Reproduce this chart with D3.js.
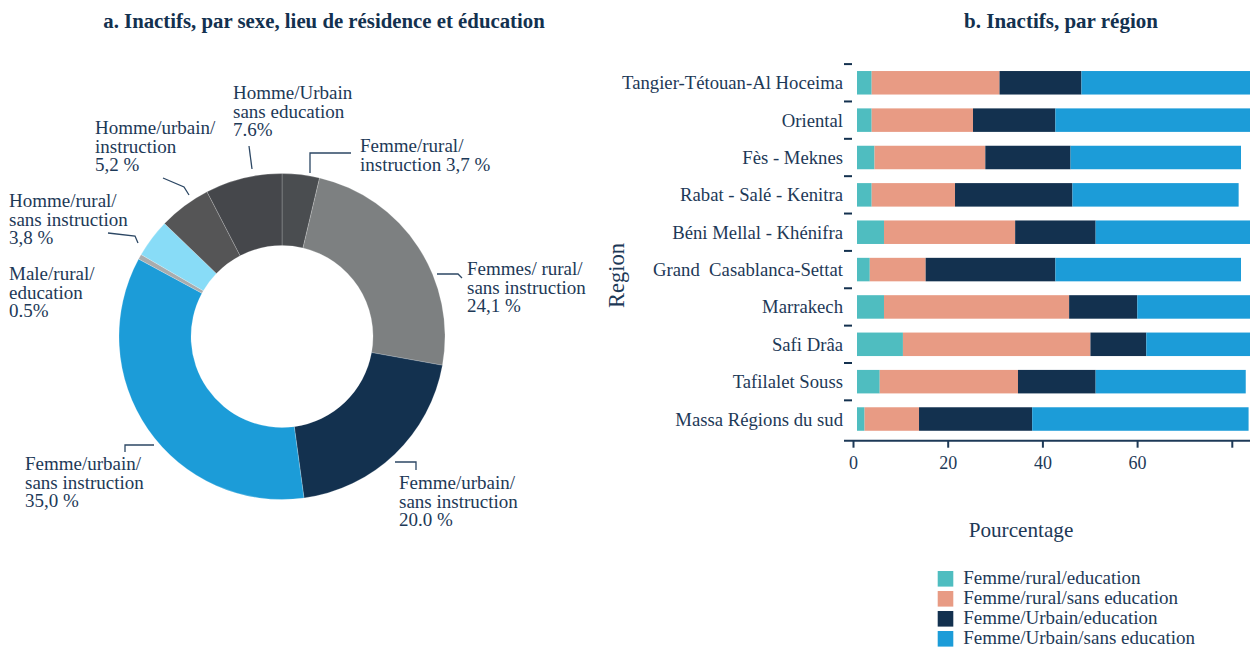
<!DOCTYPE html>
<html>
<head>
<meta charset="utf-8">
<script src="https://cdn.jsdelivr.net/npm/d3@7"></script>
<style>
  body { margin: 0; background: #fff; }
  svg { display: block; font-family: "Liberation Serif", "DejaVu Serif", serif; }
</style>
</head>
<body>
<div id="chart"></div>
<script>
// ---- panel a : donut data
var pieNames = ["Femme/rural/instruction", "Femmes/rural/sans instruction", "Femme/urbain/instruction",
  "Femme/urbain/sans instruction", "Male/rural/education", "Homme/rural/sans instruction",
  "Homme/urbain/instruction", "Homme/Urbain/sans education"];
var pieValues = [3.7, 24.1, 20.0, 35.0, 0.5, 3.8, 5.2, 7.6];
var pieLabels = [
  ["Femme/rural/", "instruction 3,7 %"],
  ["Femmes/ rural/", "sans instruction", "24,1 %"],
  ["Femme/urbain/", "sans instruction", "20.0 %"],
  ["Femme/urbain/", "sans instruction", "35,0 %"],
  ["Male/rural/", "education", "0.5%"],
  ["Homme/rural/", "sans instruction", "3,8 %"],
  ["Homme/urbain/", "instruction", "5,2 %"],
  ["Homme/Urbain", "sans education", "7.6%"]
];

// ---- panel b : stacked bars data
var regions = ["Tangier-Tétouan-Al Hoceima", "Oriental", "Fès - Meknes", "Rabat - Salé - Kenitra",
  "Béni Mellal - Khénifra", "Grand  Casablanca-Settat", "Marrakech", "Safi Drâa",
  "Tafilalet Souss", "Massa Régions du sud"];
var seriesNames = ["Femme/rural/education", "Femme/rural/sans education",
  "Femme/Urbain/education", "Femme/Urbain/sans education"];
var ruralEdu   = [3.1, 3.1, 3.7, 3.1, 5.7, 2.7, 5.7, 9.7, 4.8, 1.6];
var ruralSans  = [27.0, 21.4, 23.4, 17.6, 27.7, 11.8, 39.1, 39.6, 29.2, 11.5];
var urbainEdu  = [17.3, 17.4, 18.0, 24.8, 17.0, 27.4, 14.4, 11.8, 16.4, 23.9];
var urbainSans = [38.6, 46.0, 36.0, 35.1, 37.0, 39.2, 28.0, 26.0, 31.7, 45.7];
var xTicks = [0, 20, 40, 60, 80];

var textColor = "#1d3957";
var pieColors = ["#4a4d50", "#7d8081", "#13314f", "#1c9cd8", "#a9acae", "#88dcf7", "#555556", "#45474b"];
var barColors = ["#4fbdc0", "#e89b84", "#13314f", "#1c9cd8"];

var svg = d3.select("#chart").append("svg")
  .attr("width", 1250)
  .attr("height", 649);

// titles
svg.append("text")
  .attr("x", 324).attr("y", 28)
  .attr("text-anchor", "middle")
  .attr("font-size", 20.8).attr("font-weight", "bold")
  .attr("fill", "#13314f")
  .text("a. Inactifs, par sexe, lieu de résidence et éducation");

svg.append("text")
  .attr("x", 1061).attr("y", 28)
  .attr("text-anchor", "middle")
  .attr("font-size", 21).attr("font-weight", "bold")
  .attr("fill", "#13314f")
  .text("b. Inactifs, par région");

// ---------------- donut
var cx = 282, cy = 336.5;
var pie = d3.pie().sort(null).value(function(d) { return d; });
var arc = d3.arc().innerRadius(91).outerRadius(163);

var donut = svg.append("g").attr("transform", "translate(" + cx + "," + cy + ")");
donut.selectAll("path.slice")
  .data(pie(pieValues))
  .enter().append("path")
  .attr("class", "slice")
  .attr("d", arc)
  .attr("fill", function(d, i) { return pieColors[i]; })
  .attr("stroke", "#ffffff")
  .attr("stroke-opacity", 0.35)
  .attr("stroke-width", 0.6);

// hand placed labels, like in the original layout
var labelLayout = [
  { x: 360, y: 152, line: "M310,173 V153 H351" },
  { x: 467, y: 275, line: "M437,274 H458 L462,278" },
  { x: 399, y: 489, line: "M395,462 H416 V470" },
  { x: 25,  y: 470, line: "M125,452 V445 H154" },
  { x: 9,   y: 280, line: null },
  { x: 9,   y: 207, line: "M108,233 L135,236 L138,243" },
  { x: 95,  y: 134, line: "M163,178 L184,187 L189,195" },
  { x: 233, y: 99,  line: "M249,146 L252,169" }
];

var labels = svg.append("g").attr("class", "pie-labels");
pieLabels.forEach(function(lines, i) {
  var pos = labelLayout[i];
  var t = labels.append("text")
    .attr("x", pos.x).attr("y", pos.y)
    .attr("font-size", 19)
    .attr("fill", textColor);
  lines.forEach(function(s, j) {
    t.append("tspan").attr("x", pos.x).attr("dy", j === 0 ? 0 : 18.6).text(s);
  });
  if (pos.line) {
    labels.append("path")
      .attr("d", pos.line)
      .attr("fill", "none")
      .attr("stroke", "#2c4764")
      .attr("stroke-width", 1.3);
  }
});

// ---------------- stacked bars
var x = d3.scaleLinear().domain([0, 83]).range([857, 1250]);
var y = d3.scaleBand().domain(regions).range([64.1, 64.1 + 37.36 * regions.length])
  .paddingInner(0.371).paddingOuter(0.1855);

var rows = regions.map(function(r, i) {
  return { region: r, a: ruralEdu[i], b: ruralSans[i], c: urbainEdu[i], d: urbainSans[i] };
});
var stack = d3.stack().keys(["a", "b", "c", "d"]);
var stacked = stack(rows);

svg.append("clipPath").attr("id", "plot-clip")
  .append("rect").attr("x", 850).attr("y", 50).attr("width", 400).attr("height", 400);

var bars = svg.append("g").attr("clip-path", "url(#plot-clip)");
bars.selectAll("g.layer")
  .data(stacked)
  .enter().append("g")
  .attr("class", "layer")
  .attr("fill", function(d, i) { return barColors[i]; })
  .selectAll("rect")
  .data(function(d) { return d; })
  .enter().append("rect")
  .attr("x", function(d) { return x(d[0]); })
  .attr("y", function(d) { return y(d.data.region); })
  .attr("width", function(d) { return x(d[1]) - x(d[0]); })
  .attr("height", y.bandwidth());

// y axis: labels and the small dashes above each band
var yAxis = svg.append("g").attr("class", "y axis");
yAxis.selectAll("text")
  .data(regions)
  .enter().append("text")
  .attr("x", 843)
  .attr("y", function(d) { return y(d) + y.bandwidth() / 2; })
  .attr("dy", "0.35em")
  .attr("text-anchor", "end")
  .attr("font-size", 18.7)
  .attr("fill", textColor)
  .style("white-space", "pre")
  .text(function(d) { return d; });

yAxis.selectAll("line")
  .data(regions)
  .enter().append("line")
  .attr("x1", 844).attr("x2", 852)
  .attr("y1", function(d) { return y(d) - y.step() * 0.1855; })
  .attr("y2", function(d) { return y(d) - y.step() * 0.1855; })
  .attr("stroke", "#13314f")
  .attr("stroke-width", 2);

// x axis
var axisY = 440.7;
svg.append("line")
  .attr("x1", 844).attr("x2", 1250)
  .attr("y1", axisY).attr("y2", axisY)
  .attr("stroke", "#1d3957").attr("stroke-width", 2);

var xAxis = svg.append("g")
  .attr("class", "x axis")
  .attr("transform", "translate(-4," + axisY + ")")
  .call(d3.axisBottom(x).tickValues(xTicks).tickSize(7).tickSizeOuter(0)
    .tickFormat(function(d) { return d === 80 ? "" : d; }));
xAxis.select(".domain").remove();
xAxis.selectAll(".tick line").attr("stroke", "#1d3957").attr("stroke-width", 2);
xAxis.selectAll(".tick text")
  .attr("y", 28.6).attr("dy", 0)
  .attr("font-family", "Liberation Serif, serif")
  .attr("font-size", 18)
  .attr("fill", textColor);

// axis titles
svg.append("text")
  .attr("transform", "translate(624,275.5) rotate(-90)")
  .attr("text-anchor", "middle")
  .attr("font-size", 22.5)
  .attr("fill", textColor)
  .text("Region");

svg.append("text")
  .attr("x", 1021).attr("y", 537)
  .attr("text-anchor", "middle")
  .attr("font-size", 21.2)
  .attr("fill", textColor)
  .text("Pourcentage");

// legend
var legend = svg.append("g").attr("class", "legend");
seriesNames.forEach(function(name, i) {
  legend.append("rect")
    .attr("x", 937.7).attr("y", 571 + i * 20)
    .attr("width", 15.6).attr("height", 15.6)
    .attr("fill", barColors[i]);
  legend.append("text")
    .attr("x", 963.3).attr("y", 584 + i * 20)
    .attr("font-size", 19)
    .attr("fill", textColor)
    .text(name);
});
</script>
</body>
</html>
